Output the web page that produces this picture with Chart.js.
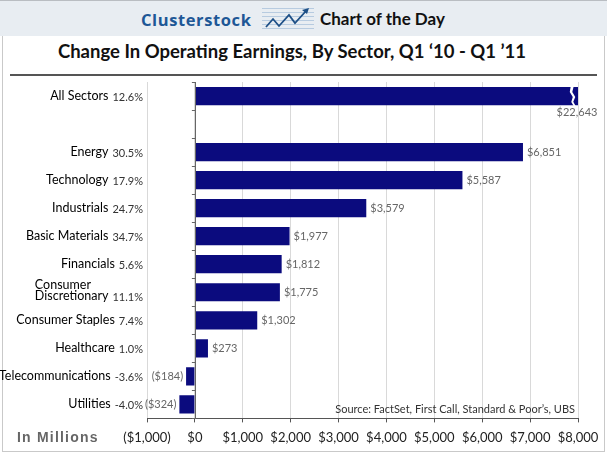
<!DOCTYPE html>
<html>
<head>
<meta charset="utf-8">
<script src="https://cdn.jsdelivr.net/npm/chart.js@4.4.0/dist/chart.umd.min.js"></script>
<style>
body { margin: 0; width: 607px; height: 456px; position: relative; overflow: hidden; background: #fff; font-family: Lato, sans-serif; }
#header { position: absolute; left: 0; top: 0; width: 607px; height: 36px; background: #e8edf2; border-top: 1px solid #b9bdc2; box-sizing: border-box; }
#brand { position: absolute; left: 141px; top: 7px; font: bold 16.5px "Open Sans", sans-serif; color: #1d5796; letter-spacing: 0.6px; }
#icon { position: absolute; left: 262px; top: 5px; }
#cotd { position: absolute; left: 320px; top: 7px; font: bold 17px Lato, sans-serif; color: #111; }
#frame { position: absolute; left: 2px; top: 36px; width: 601px; height: 415px; border: 1px solid #c9c9c9; border-top: none; }
#title { position: absolute; left: 0; top: 40px; width: 584px; text-align: center; font: bold 18.5px Lato, sans-serif; color: #111; }
#rule { position: absolute; left: 10px; top: 74px; width: 587px; height: 2px; background: #555; }
#source { position: absolute; right: 32px; top: 402px; font: 11px Lato, sans-serif; color: #333; }
#units { position: absolute; left: 17px; top: 429px; font: bold 14px "Liberation Sans", sans-serif; color: #666; letter-spacing: 1.2px; }
canvas { position: absolute; left: 0; top: 0; }
</style>
</head>
<body>
<div id="header">
  <div id="brand">Clusterstock</div>
  <svg id="icon" width="52" height="26" viewBox="0 0 52 26">
    <g stroke="#b7cbe0" stroke-width="1">
      <line x1="0" y1="2.5" x2="52" y2="2.5"/><line x1="0" y1="6.5" x2="52" y2="6.5"/>
      <line x1="0" y1="10.5" x2="52" y2="10.5"/><line x1="0" y1="14.5" x2="52" y2="14.5"/>
      <line x1="0" y1="18.5" x2="52" y2="18.5"/><line x1="0" y1="22.5" x2="52" y2="22.5"/>
    </g>
    <polyline points="4,21 11,13 17,20 27,9 33,17 44,5" fill="none" stroke="#1d4f86" stroke-width="1.8"/>
    <polygon points="47,2 40,4 45,8" fill="#1d4f86"/>
  </svg>
  <div id="cotd">Chart of the Day</div>
</div>
<div id="frame"></div>
<div id="title">Change In Operating Earnings, By Sector, Q1 ‘10 - Q1 ’11</div>
<div id="rule"></div>
<canvas id="earnings_chart" width="607" height="456"></canvas>
<div id="source">Source: FactSet, First Call, Standard &amp; Poor’s, UBS</div>
<div id="units">In Millions</div>
<script>
var sectors = ['All Sectors', '', 'Energy', 'Technology', 'Industrials', 'Basic Materials', 'Financials',
    ['Consumer', 'Discretionary'], 'Consumer Staples', 'Healthcare', 'Telecommunications', 'Utilities'];
var pctChange = ['12.6%', '', '30.5%', '17.9%', '24.7%', '34.7%', '5.6%', '11.1%', '7.4%', '1.0%', '-3.6%', '-4.0%'];
var earnings = [22643, null, 6851, 5587, 3579, 1977, 1812, 1775, 1302, 273, -184, -324];
var axisMin = -1000;
var axisMax = 8000;
var axisStep = 1000;

function money(v) {
    var s = '$' + Math.abs(v).toLocaleString('en-US');
    return v < 0 ? '(' + s + ')' : s;
}

// sector names, % changes, value labels, the $0 axis and the break on the clipped bar
var sectorLabels = {
    id: 'sectorLabels',
    afterDatasetsDraw: function (chart) {
        var ctx = chart.ctx;
        var xs = chart.scales.x;
        var ys = chart.scales.y;
        var area = chart.chartArea;
        var meta = chart.getDatasetMeta(0);
        var x0 = xs.getPixelForValue(0);
        ctx.save();

        // broken bar
        meta.data.forEach(function (bar, i) {
            if (earnings[i] === null || earnings[i] <= axisMax) return;
            var xb = xs.getPixelForValue(axisMax - 130);
            var top = bar.y - bar.height / 2 - 1, h = bar.height + 2;
            ctx.fillStyle = '#fff';
            ctx.beginPath();
            ctx.moveTo(xb - 1, top);
            ctx.lineTo(xb + 2, top);
            ctx.lineTo(xb + 0.5, top + h * 0.3);
            ctx.lineTo(xb + 3.5, top + h * 0.55);
            ctx.lineTo(xb + 1.5, top + h * 0.78);
            ctx.lineTo(xb + 4, top + h);
            ctx.lineTo(xb + 2, top + h);
            ctx.lineTo(xb - 0.5, top + h * 0.8);
            ctx.lineTo(xb + 1, top + h * 0.55);
            ctx.lineTo(xb - 2, top + h * 0.3);
            ctx.closePath();
            ctx.fill();
        });

        // category axis at $0
        ctx.strokeStyle = '#666';
        ctx.lineWidth = 1;
        ctx.beginPath();
        ctx.moveTo(Math.round(x0) + 0.5, area.top);
        ctx.lineTo(Math.round(x0) + 0.5, area.bottom);
        var step = (area.bottom - area.top) / sectors.length;
        for (var k = 0; k <= sectors.length; k++) {
            var ty = Math.round(area.top + k * step) + 0.5;
            ctx.moveTo(x0 - 3, ty);
            ctx.lineTo(x0 + 1, ty);
        }
        ctx.stroke();

        ctx.textBaseline = 'middle';
        sectors.forEach(function (name, i) {
            if (!name) return;
            var y = ys.getPixelForValue(i);
            var right = area.left - 4;
            ctx.font = '11px Lato';
            ctx.fillStyle = '#333';
            ctx.textAlign = 'right';
            var pw = ctx.measureText(pctChange[i]).width;
            var lines = Array.isArray(name) ? name : [name];
            var ly = lines.length > 1 ? y + 4 : y;
            ctx.fillText(pctChange[i], right, ly + 1);
            ctx.font = '12.5px Lato';
            ctx.fillStyle = '#000';
            var last = lines[lines.length - 1];
            var nameRight = right - pw - 4;
            ctx.fillText(last, nameRight, ly);
            if (lines.length > 1) {
                var lw = ctx.measureText(last).width;
                ctx.textAlign = 'left';
                ctx.fillText(lines[0], nameRight - lw, ly - 11);
            }
        });

        ctx.font = '11px Lato';
        ctx.fillStyle = '#666';
        meta.data.forEach(function (bar, i) {
            var v = earnings[i];
            if (v === null) return;
            if (v > axisMax) {
                ctx.textAlign = 'center';
                ctx.textBaseline = 'top';
                ctx.fillText(money(v), area.right - 1, bar.y + bar.height / 2 + 2);
                ctx.textBaseline = 'middle';
            } else if (v < 0) {
                ctx.textAlign = 'right';
                ctx.fillText(money(v), bar.x - 3, bar.y);
            } else {
                ctx.textAlign = 'left';
                ctx.fillText(money(v), bar.x + 4, bar.y);
            }
        });
        ctx.restore();
    }
};

Chart.defaults.font.family = 'Lato';
var CHART = document.getElementById('earnings_chart').getContext('2d');
var earnings_chart = new Chart(CHART, {
    type: 'bar',
    data: {
        labels: sectors,
        datasets: [{
            data: earnings,
            backgroundColor: '#0b0b7e',
            borderWidth: 0,
            barPercentage: 0.65,
            categoryPercentage: 1
        }]
    },
    options: {
        indexAxis: 'y',
        responsive: false,
        animation: false,
        layout: { padding: { left: 147, right: 29, top: 82, bottom: 2 } },
        plugins: { legend: { display: false }, tooltip: { enabled: false } },
        scales: {
            x: {
                min: axisMin,
                max: axisMax,
                ticks: {
                    stepSize: axisStep,
                    callback: function (v) { return money(v); },
                    color: '#222',
                    font: { size: 13 },
                    padding: 8,
                    maxRotation: 0,
                    autoSkip: false
                },
                grid: { color: '#d9d9d9', tickLength: 4, tickColor: '#555' },
                border: { color: '#555' }
            },
            y: { display: false }
        }
    },
    plugins: [sectorLabels]
});
</script>
</body>
</html>
